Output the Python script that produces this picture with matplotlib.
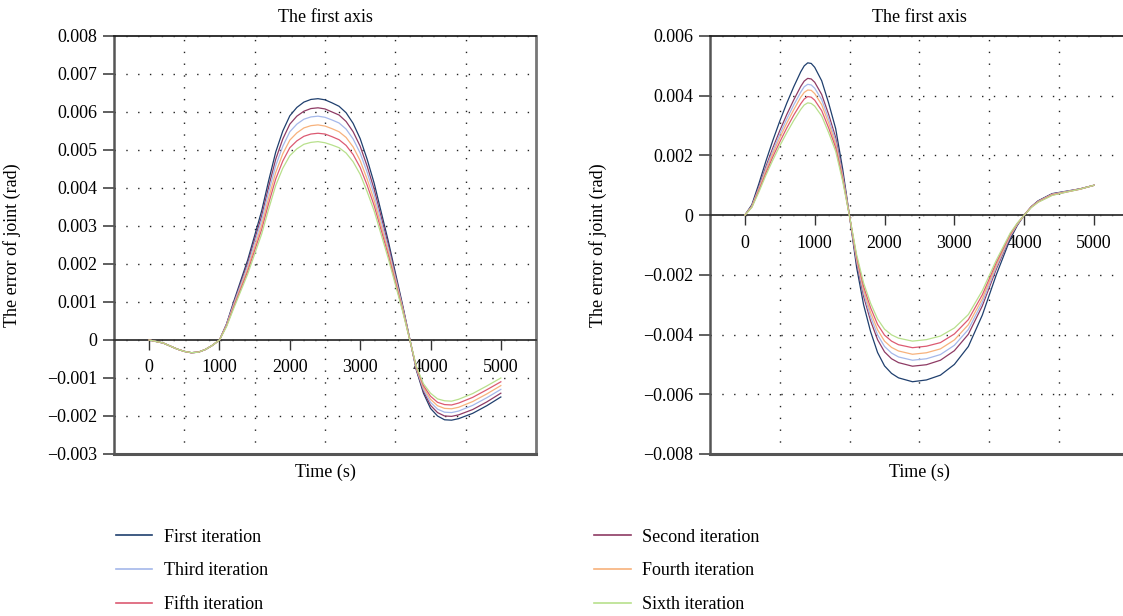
import matplotlib
matplotlib.use("Agg")
from matplotlib import pyplot as plt
from matplotlib.lines import Line2D

plt.rcParams['font.family'] = ['Liberation Serif', 'DejaVu Serif']
plt.rcParams['font.size'] = 13

labels = ['First iteration', 'Second iteration', 'Third iteration',
          'Fourth iteration', 'Fifth iteration', 'Sixth iteration']
colors = ['#1f3f6e', '#8e3b64', '#a4b8ea', '#f7b27c', '#dc5a72', '#b8e08c']

# left panel, time (s) and errors (x 1e-3 rad)
t_left = [0, 200, 400, 500, 600, 700, 800, 900, 1000, 1100,
          1200, 1400, 1600, 1700, 1800, 1900, 2000, 2100, 2200, 2300, 2400,
          2500, 2600, 2700, 2800, 2900, 3000, 3100, 3200, 3400, 3600,
          3800, 3900, 4000, 4100, 4200, 4300, 4400, 4600, 4800, 5000]
left_1 = [0, -0.08, -0.24, -0.30, -0.335, -0.32, -0.25, -0.14, 0.0, 0.42,
          1.0, 2.1, 3.4, 4.2, 4.95, 5.5, 5.9, 6.12, 6.26, 6.33, 6.35,
          6.32, 6.24, 6.15, 5.98, 5.7, 5.3, 4.75, 4.12, 2.6, 0.95,
          -0.8, -1.4, -1.8, -2.0, -2.1, -2.11, -2.07, -1.93, -1.73, -1.5]
left_2 = [0, -0.08, -0.24, -0.30, -0.335, -0.32, -0.25, -0.14, 0.0, 0.41,
          0.96, 2.02, 3.27, 4.04, 4.76, 5.29, 5.68, 5.89, 6.02, 6.09, 6.11,
          6.08, 6.00, 5.92, 5.75, 5.48, 5.10, 4.57, 3.96, 2.50, 0.91,
          -0.78, -1.35, -1.72, -1.91, -2.0, -2.01, -1.97, -1.83, -1.63, -1.40]
left_3 = [0, -0.08, -0.24, -0.30, -0.335, -0.32, -0.25, -0.14, 0.0, 0.40,
          0.93, 1.95, 3.16, 3.90, 4.59, 5.10, 5.48, 5.68, 5.81, 5.87, 5.89,
          5.86, 5.79, 5.71, 5.55, 5.29, 4.92, 4.41, 3.82, 2.41, 0.88,
          -0.76, -1.30, -1.64, -1.82, -1.9, -1.91, -1.87, -1.72, -1.52, -1.30]
left_4 = [0, -0.08, -0.24, -0.30, -0.335, -0.32, -0.25, -0.14, 0.0, 0.38,
          0.89, 1.87, 3.03, 3.74, 4.41, 4.90, 5.26, 5.45, 5.58, 5.64, 5.66,
          5.63, 5.56, 5.48, 5.33, 5.08, 4.72, 4.23, 3.67, 2.32, 0.85,
          -0.74, -1.25, -1.56, -1.73, -1.8, -1.81, -1.77, -1.62, -1.42, -1.20]
left_5 = [0, -0.08, -0.24, -0.30, -0.335, -0.32, -0.25, -0.14, 0.0, 0.37,
          0.86, 1.80, 2.91, 3.60, 4.24, 4.71, 5.06, 5.24, 5.36, 5.42, 5.44,
          5.42, 5.35, 5.27, 5.12, 4.88, 4.54, 4.07, 3.53, 2.23, 0.81,
          -0.72, -1.20, -1.48, -1.64, -1.7, -1.71, -1.66, -1.51, -1.31, -1.10]
left_6 = [0, -0.08, -0.24, -0.30, -0.335, -0.32, -0.25, -0.14, 0.0, 0.35,
          0.82, 1.73, 2.79, 3.45, 4.07, 4.52, 4.85, 5.03, 5.15, 5.20, 5.22,
          5.19, 5.13, 5.06, 4.92, 4.69, 4.36, 3.90, 3.39, 2.14, 0.78,
          -0.70, -1.15, -1.40, -1.55, -1.6, -1.61, -1.56, -1.41, -1.21, -1.00]

# right panel
t_right = [0, 100, 200, 300, 400, 500, 600, 700, 800, 850, 900, 950, 1000, 1100,
           1200, 1300, 1400, 1500,
           1600, 1700, 1800, 1900, 2000, 2100, 2200, 2400, 2600, 2800, 3000, 3200,
           3400, 3600, 3800,
           3900, 4000, 4100, 4200, 4400, 4600, 4800, 5000]
right_1 = [0, 0.35, 1.05, 1.8, 2.5, 3.15, 3.75, 4.3, 4.8, 5.0, 5.1, 5.08, 4.95, 4.5,
           3.75, 2.9, 1.55, -0.05,
           -1.75, -3.0, -3.9, -4.6, -5.05, -5.3, -5.45, -5.58, -5.52, -5.36, -5.0, -4.4,
           -3.35, -2.0, -0.8,
           -0.35, 0.0, 0.28, 0.48, 0.72, 0.8, 0.88, 1.0]
right_2 = [0, 0.31, 0.94, 1.62, 2.25, 2.83, 3.37, 3.86, 4.31, 4.49, 4.58, 4.56, 4.45, 4.04,
           3.37, 2.60, 1.39, -0.05,
           -1.59, -2.72, -3.54, -4.17, -4.58, -4.81, -4.94, -5.06, -5.01, -4.86, -4.54, -3.99,
           -3.04, -1.81, -0.73,
           -0.32, 0.0, 0.28, 0.47, 0.71, 0.79, 0.88, 1.0]
right_3 = [0, 0.30, 0.90, 1.55, 2.15, 2.71, 3.22, 3.69, 4.12, 4.30, 4.38, 4.36, 4.25, 3.87,
           3.22, 2.49, 1.33, -0.05,
           -1.52, -2.61, -3.40, -4.01, -4.40, -4.62, -4.75, -4.86, -4.81, -4.67, -4.36, -3.83,
           -2.92, -1.74, -0.70,
           -0.31, 0.0, 0.27, 0.46, 0.70, 0.79, 0.87, 1.0]
right_4 = [0, 0.29, 0.86, 1.48, 2.06, 2.59, 3.08, 3.53, 3.95, 4.11, 4.19, 4.18, 4.07, 3.70,
           3.08, 2.38, 1.27, -0.05,
           -1.46, -2.51, -3.26, -3.84, -4.22, -4.43, -4.55, -4.66, -4.61, -4.48, -4.18, -3.67,
           -2.80, -1.67, -0.67,
           -0.30, 0.0, 0.27, 0.45, 0.69, 0.78, 0.87, 1.0]
right_5 = [0, 0.27, 0.82, 1.40, 1.95, 2.45, 2.92, 3.35, 3.73, 3.89, 3.97, 3.95, 3.85, 3.50,
           2.92, 2.26, 1.21, -0.05,
           -1.39, -2.39, -3.10, -3.66, -4.02, -4.22, -4.34, -4.44, -4.39, -4.27, -3.98, -3.50,
           -2.67, -1.59, -0.64,
           -0.28, 0.0, 0.26, 0.44, 0.67, 0.77, 0.87, 1.0]
right_6 = [0, 0.26, 0.77, 1.33, 1.84, 2.32, 2.76, 3.17, 3.54, 3.69, 3.76, 3.74, 3.65, 3.32,
           2.76, 2.14, 1.14, -0.05,
           -1.32, -2.27, -2.95, -3.48, -3.82, -4.01, -4.12, -4.22, -4.17, -4.05, -3.78, -3.33,
           -2.53, -1.51, -0.60,
           -0.27, 0.0, 0.25, 0.43, 0.66, 0.77, 0.87, 1.0]

left_series = [left_1, left_2, left_3, left_4, left_5, left_6]
right_series = [right_1, right_2, right_3, right_4, right_5, right_6]

left_yticks = [-0.003, -0.002, -0.001, 0, 0.001, 0.002, 0.003, 0.004, 0.005, 0.006, 0.007, 0.008]
right_yticks = [-0.008, -0.006, -0.004, -0.002, 0, 0.002, 0.004, 0.006]
xticks = [0, 1000, 2000, 3000, 4000, 5000]
xgrid = [500, 1500, 2500, 3500, 4500]


def fmt(v):
    if v == 0:
        return '0'
    return f'{v:.3f}'.replace('-', '\u2212')


def style_axis(ax, t, series, yticks, ylabel_x):
    for s, c in zip(series, colors):
        ax.plot(t, [v * 1e-3 for v in s], color=c, lw=0.9, zorder=3)
    ax.set_xlim(-500, 5500)
    ax.set_ylim(yticks[0], yticks[-1])
    ax.set_yticks(yticks)
    ax.set_yticklabels([fmt(v) for v in yticks])
    ax.set_xticks(xticks)
    ax.set_xticklabels([str(v) for v in xticks])
    ax.set_xticks(xgrid, minor=True)
    ax.tick_params(axis='x', which='minor', length=0)
    ax.tick_params(axis='y', direction='out', length=8, width=1.2, color='#444', pad=4)
    ax.tick_params(axis='x', which='major', direction='out', length=7, width=1.0,
                   color='#333', pad=7)
    dot = (0, (1.0, 7.5))
    ax.grid(which='minor', axis='x', color='#222', lw=1.0, linestyle=dot)
    ax.grid(which='major', axis='y', color='#222', lw=1.0, linestyle=dot)
    ax.grid(which='major', axis='x', visible=False)

    # x axis sits on the zero line, frame drawn separately
    ax.spines['bottom'].set_position(('data', 0))
    ax.spines['bottom'].set_color('#333')
    ax.spines['bottom'].set_linewidth(1.3)
    ax.axhline(yticks[0], color='#555', lw=2.2, clip_on=False, zorder=4)
    ax.spines['left'].set_color('#555')
    ax.spines['left'].set_linewidth(1.8)
    ax.spines['top'].set_color('#222')
    ax.spines['top'].set_linewidth(1.3)
    ax.spines['right'].set_color('#777')
    ax.spines['right'].set_linewidth(2.0)

    ax.set_title('The first axis', pad=10, fontsize=13)
    ax.set_ylabel('The error of joint (rad)')
    ax.yaxis.set_label_coords(ylabel_x, 0.5)
    ax.set_xlabel('Time (s)')
    ax.xaxis.set_label_coords(0.5, -0.022)
    ax.xaxis.label.set_va('top')


fig = plt.figure(figsize=(11.23, 6.16), dpi=100)
ax1 = fig.add_axes([0.1015, 0.263, 0.3758, 0.6786])
ax2 = fig.add_axes([0.6322, 0.263, 0.3731, 0.6786])

style_axis(ax1, t_left, left_series, left_yticks, -0.22)
style_axis(ax2, t_right, right_series, right_yticks, -0.246)

handles = [Line2D([], [], color=c, lw=1.2) for c in colors]
order = [0, 2, 4, 1, 3, 5]
fig.legend([handles[i] for i in order], [labels[i] for i in order],
           loc='upper left', bbox_to_anchor=(0.103, 0.142), ncol=2, frameon=False,
           handlelength=2.0, handletextpad=0.65, labelspacing=0.93,
           columnspacing=18.1, borderaxespad=0, borderpad=0, fontsize=13)

fig.savefig('out.png', dpi=100)
